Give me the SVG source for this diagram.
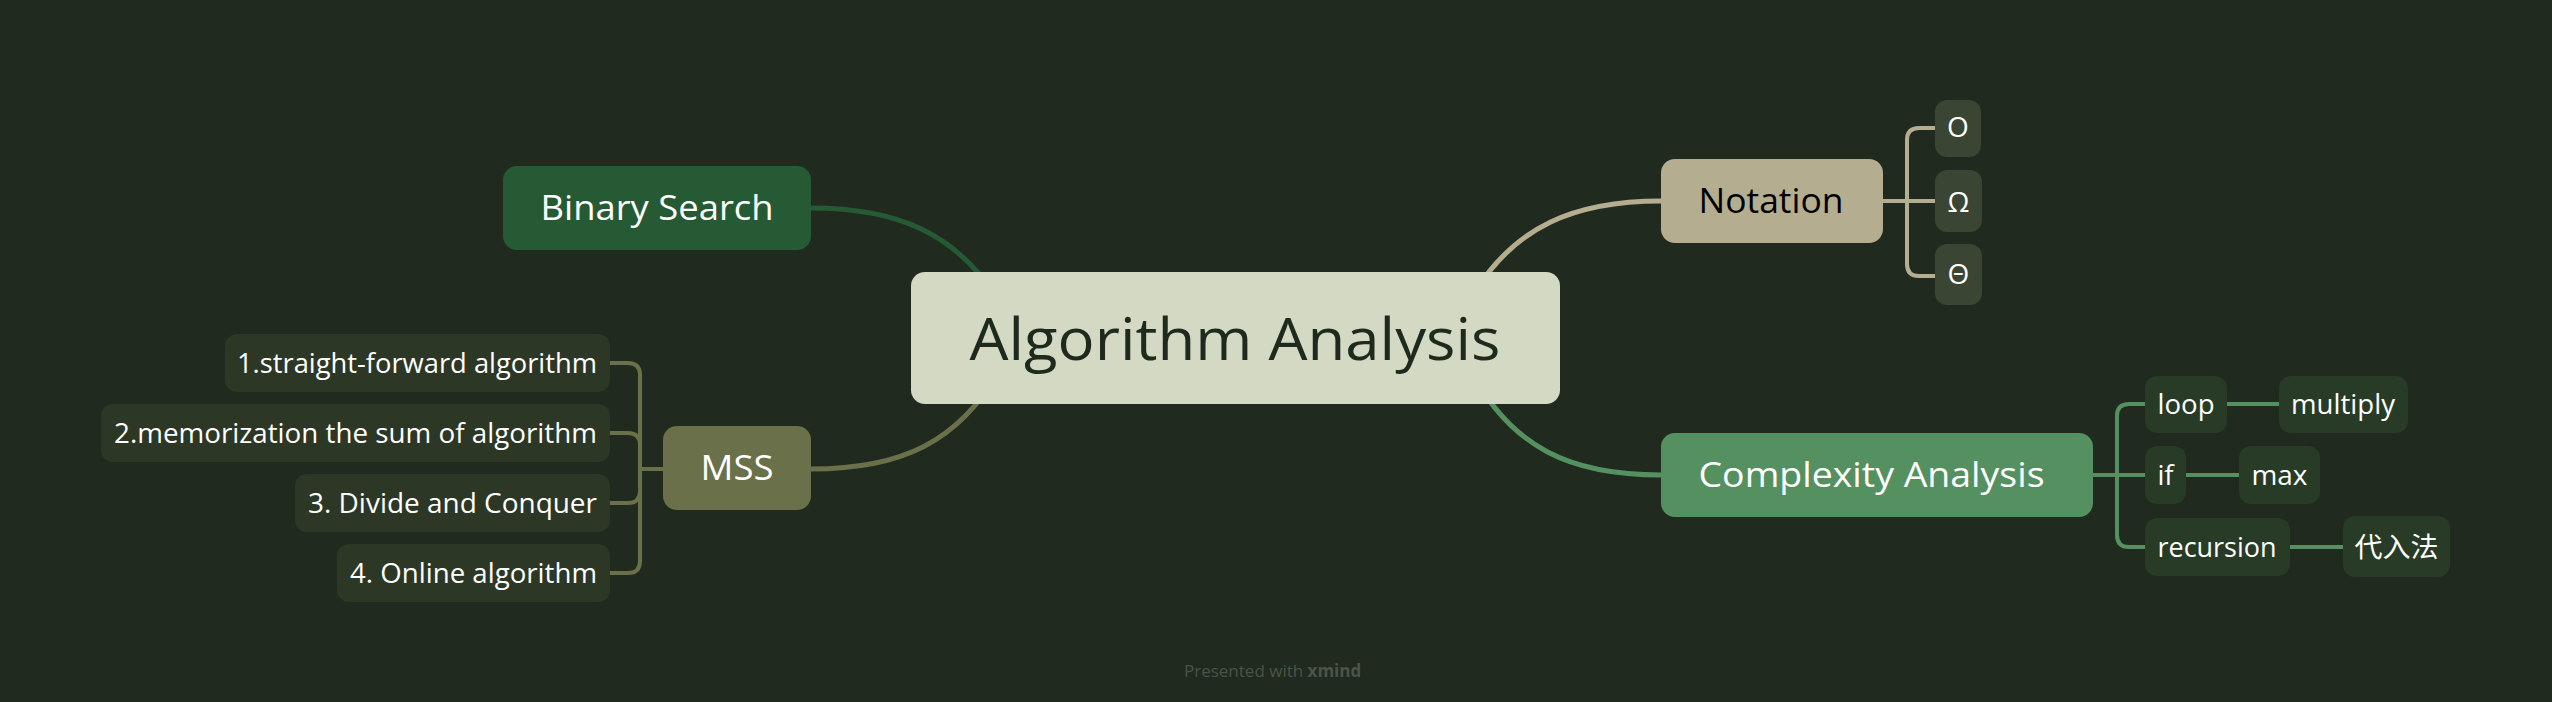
<svg xmlns="http://www.w3.org/2000/svg" width="2552" height="702" viewBox="0 0 2552 702">
<style>
.t{font-family:"Open Sans","Noto Sans","Noto Sans CJK SC",sans-serif;}
.main{font-size:35px;text-anchor:middle;font-weight:500;}
.sub{font-size:27.5px;fill:#ffffff;}
.w{fill:#ffffff;}
.ln{fill:none;stroke-linecap:round;}
</style>
<rect x="0" y="0" width="2552" height="702" fill="#202a1f"/>
<g id="connectors">
  <path class="ln" d="M811 208 C900 208 955 235 995 295" stroke="#265a35" stroke-width="5"/>
  <path class="ln" d="M1661 201 C1572 201 1516 228 1476 290" stroke="#b5ad90" stroke-width="5"/>
  <path class="ln" d="M1661 475 C1570 475 1512 448 1470 370" stroke="#559160" stroke-width="5"/>
  <path class="ln" d="M811 469 C902 469 958 442 1000 370" stroke="#6a7049" stroke-width="5"/>
  <g stroke="#b5ad90" stroke-width="4" class="ln">
    <path d="M1883 201 H1935"/>
    <path d="M1935 128 H1919 Q1907 128 1907 140 V264 Q1907 276 1919 276 H1935"/>
  </g>
  <g stroke="#559160" stroke-width="4" class="ln">
    <path d="M2093 475 H2145"/>
    <path d="M2145 404 H2129 Q2117 404 2117 416 V535 Q2117 547 2129 547 H2145"/>
    <path d="M2227 404 H2279"/>
    <path d="M2186 475 H2239"/>
    <path d="M2290 547 H2343"/>
  </g>
  <g stroke="#6a7049" stroke-width="4" class="ln">
    <path d="M663 469 H640"/>
    <path d="M610 363 H628 Q640 363 640 375 V561 Q640 573 628 573 H610"/>
    <path d="M610 433 H628 Q640 433 640 445 V469"/>
    <path d="M610 503 H628 Q640 503 640 491 V469"/>
  </g>
</g>
<g id="central">
  <rect x="911" y="272" width="649" height="132" rx="14" fill="#d4d9c3"/>
  <text class="t" x="1235" y="360" font-size="58" font-weight="500" text-anchor="middle" fill="#1f2a1e" textLength="531" lengthAdjust="spacingAndGlyphs">Algorithm Analysis</text>
</g>
<g id="binary-search">
  <rect x="503" y="166" width="308" height="84" rx="14" fill="#265a35"/>
  <text class="t main w" x="657" y="220" textLength="233" lengthAdjust="spacingAndGlyphs">Binary Search</text>
</g>
<g id="notation">
  <rect x="1661" y="159" width="222" height="84" rx="14" fill="#b5ad90"/>
  <text class="t main" x="1771" y="213" fill="#000000" textLength="145" lengthAdjust="spacingAndGlyphs">Notation</text>
</g>
<g id="notation-o">
  <rect x="1935" y="100" width="46" height="57" rx="12" fill="#3b4533"/>
  <text class="t w" x="1958" y="137" font-size="28" text-anchor="middle">O</text>
</g>
<g id="notation-omega">
  <rect x="1935" y="170" width="47" height="62" rx="12" fill="#3b4533"/>
  <text class="t w" x="1958.5" y="212" font-size="28" text-anchor="middle">Ω</text>
</g>
<g id="notation-theta">
  <rect x="1935" y="244" width="47" height="61" rx="12" fill="#3b4533"/>
  <text class="t w" x="1958.5" y="284" font-size="28" text-anchor="middle">Θ</text>
</g>
<g id="complexity">
  <rect x="1661" y="433" width="432" height="84" rx="14" fill="#559160"/>
  <text class="t main w" x="1871.5" y="487" textLength="346" lengthAdjust="spacingAndGlyphs">Complexity Analysis</text>
</g>
<g id="loop">
  <rect x="2145" y="376" width="82" height="57" rx="12" fill="#283b27"/>
  <text class="t sub" x="2186" y="414" text-anchor="middle" textLength="57" lengthAdjust="spacingAndGlyphs">loop</text>
</g>
<g id="multiply">
  <rect x="2279" y="376" width="129" height="57" rx="12" fill="#283b27"/>
  <text class="t sub" x="2343" y="414" text-anchor="middle" textLength="104" lengthAdjust="spacingAndGlyphs">multiply</text>
</g>
<g id="if">
  <rect x="2145" y="446" width="41" height="58" rx="12" fill="#283b27"/>
  <text class="t sub" x="2165.5" y="485" text-anchor="middle">if</text>
</g>
<g id="max">
  <rect x="2239" y="446" width="81" height="58" rx="12" fill="#283b27"/>
  <text class="t sub" x="2279.5" y="485" text-anchor="middle" textLength="56" lengthAdjust="spacingAndGlyphs">max</text>
</g>
<g id="recursion">
  <rect x="2145" y="518" width="145" height="58" rx="12" fill="#283b27"/>
  <text class="t sub" x="2217" y="557" text-anchor="middle" textLength="119" lengthAdjust="spacingAndGlyphs">recursion</text>
</g>
<g id="substitution">
  <rect x="2343" y="516" width="107" height="61" rx="12" fill="#283b27"/>
  <text class="t sub" x="2396.5" y="557" text-anchor="middle" font-size="28" textLength="84" lengthAdjust="spacingAndGlyphs">代入法</text>
</g>
<g id="mss">
  <rect x="663" y="426" width="148" height="84" rx="14" fill="#6a7049"/>
  <text class="t main w" x="737" y="480" textLength="73" lengthAdjust="spacingAndGlyphs">MSS</text>
</g>
<g id="mss-1">
  <rect x="225" y="334" width="385" height="58" rx="12" fill="#2d3726"/>
  <text class="t sub" x="597" y="373" text-anchor="end" textLength="360" lengthAdjust="spacingAndGlyphs">1.straight-forward algorithm</text>
</g>
<g id="mss-2">
  <rect x="101" y="404" width="509" height="58" rx="12" fill="#2d3726"/>
  <text class="t sub" x="597" y="443" text-anchor="end" textLength="483" lengthAdjust="spacingAndGlyphs">2.memorization the sum of algorithm</text>
</g>
<g id="mss-3">
  <rect x="295" y="474" width="315" height="58" rx="12" fill="#2d3726"/>
  <text class="t sub" x="597" y="513" text-anchor="end" textLength="289" lengthAdjust="spacingAndGlyphs">3. Divide and Conquer</text>
</g>
<g id="mss-4">
  <rect x="337" y="544" width="273" height="58" rx="12" fill="#2d3726"/>
  <text class="t sub" x="597" y="583" text-anchor="end" textLength="247" lengthAdjust="spacingAndGlyphs">4. Online algorithm</text>
</g>
<g id="footer">
  <text class="t" x="1184" y="677" font-size="17" fill="#4b5446">Presented with <tspan font-weight="bold">xmind</tspan></text>
</g>
</svg>
